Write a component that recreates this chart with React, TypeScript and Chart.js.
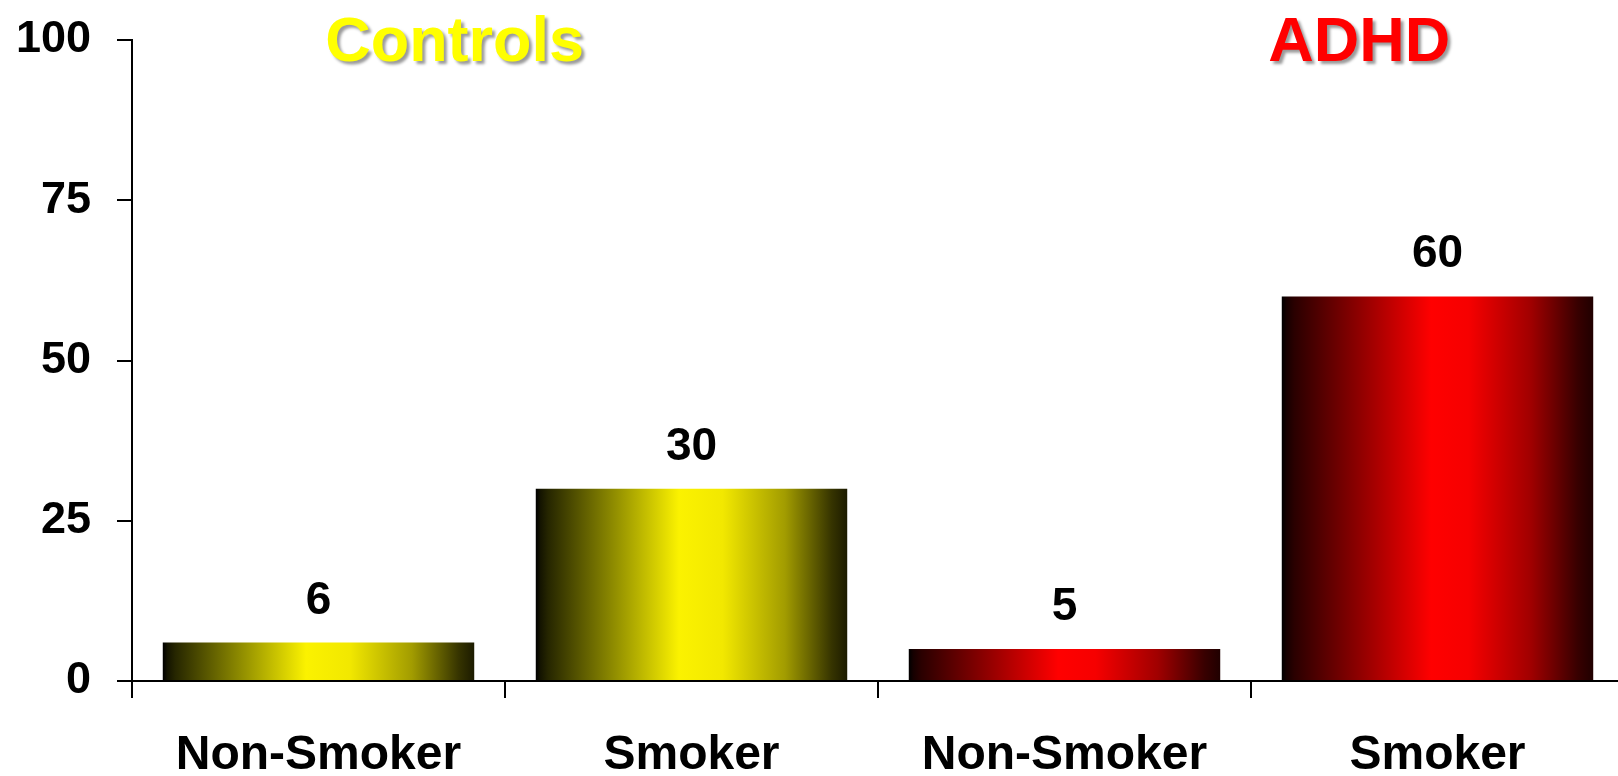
import React, { useEffect, useRef } from 'react';
import { Chart, registerables } from 'chart.js';

Chart.register(...registerables);

// ---- data ----
const categories = ['Non-Smoker', 'Smoker', 'Non-Smoker', 'Smoker'];
const values = [6, 30, 5, 60];
const barGroups = ['controls', 'controls', 'adhd', 'adhd'];
const groupTitles = ['Controls', 'ADHD'];
const groupTitleColors = ['#ffff00', '#ff0000'];
const yMin = 0;
const yMax = 100;
const yStep = 25;

const FONT = '"Liberation Sans", Arial, Helvetica, sans-serif';
const BAR_PCT = 0.835;

function gradientFor(group: string, ctx: CanvasRenderingContext2D, x0: number, x1: number) {
  const g = ctx.createLinearGradient(x0, 0, x1, 0);
  if (group === 'controls') {
    g.addColorStop(0, '#000000');
    g.addColorStop(0.015, '#141400');
    g.addColorStop(0.04, '#262600');
    g.addColorStop(0.25, '#8f8c00');
    g.addColorStop(0.46, '#fbf200');
    g.addColorStop(0.6, '#f2e800');
    g.addColorStop(0.8, '#a29c00');
    g.addColorStop(0.95, '#363400');
    g.addColorStop(1, '#1c1b00');
  } else {
    g.addColorStop(0, '#000000');
    g.addColorStop(0.015, '#160000');
    g.addColorStop(0.04, '#2a0000');
    g.addColorStop(0.25, '#8f0000');
    g.addColorStop(0.48, '#ff0000');
    g.addColorStop(0.6, '#f60000');
    g.addColorStop(0.8, '#a00000');
    g.addColorStop(0.95, '#380000');
    g.addColorStop(1, '#200000');
  }
  return g;
}

const valueLabelPlugin = {
  id: 'valueLabels',
  afterDatasetsDraw(chart: any) {
    const ctx = chart.ctx;
    const meta = chart.getDatasetMeta(0);
    ctx.save();
    ctx.fillStyle = '#000000';
    ctx.font = `bold 46px ${FONT}`;
    ctx.textAlign = 'center';
    ctx.textBaseline = 'alphabetic';
    meta.data.forEach((bar: any, i: number) => {
      ctx.fillText(String(values[i]), bar.x, bar.y - 29);
    });
    ctx.restore();
  },
};

const groupTitlePlugin = {
  id: 'groupTitles',
  afterDraw(chart: any) {
    const ctx = chart.ctx;
    const xs = chart.scales.x;
    const positions = [0.365, 2.79];
    ctx.save();
    ctx.font = `bold 63px ${FONT}`;
    ctx.textAlign = 'center';
    ctx.textBaseline = 'alphabetic';
    ctx.shadowColor = 'rgba(0,0,0,0.4)';
    ctx.shadowOffsetX = 3;
    ctx.shadowOffsetY = 3;
    ctx.shadowBlur = 3;
    groupTitles.forEach((t, i) => {
      ctx.fillStyle = groupTitleColors[i];
      ctx.fillText(t, xs.getPixelForValue(positions[i]), chart.chartArea.top + 21);
    });
    ctx.restore();
  },
};

export default function App() {
  const canvasRef = useRef<HTMLCanvasElement | null>(null);

  useEffect(() => {
    document.body.style.margin = '0';
    document.documentElement.style.overflow = 'hidden';
    const canvas = canvasRef.current;
    if (!canvas) return;
    const chart = new Chart(canvas, {
      type: 'bar',
      data: {
        labels: categories,
        datasets: [
          {
            data: values,
            borderWidth: 0,
            barPercentage: BAR_PCT,
            categoryPercentage: 1,
            backgroundColor: (c: any) => {
              const group = barGroups[c.dataIndex] ?? 'controls';
              const solid = group === 'controls' ? '#fbf200' : '#ff0000';
              const xs = c.chart.scales?.x;
              if (c.type !== 'data' || !xs) return solid;
              const cx = xs.getPixelForValue(c.dataIndex);
              const w = (xs.width / categories.length) * BAR_PCT;
              if (!isFinite(cx) || !isFinite(w) || w <= 0) return solid;
              return gradientFor(group, c.chart.ctx, cx - w / 2, cx + w / 2);
            },
          },
        ],
      },
      options: {
        animation: false,
        responsive: true,
        maintainAspectRatio: false,
        layout: { padding: { top: 40, left: 0, right: 0, bottom: 0 } },
        plugins: {
          legend: { display: false },
          tooltip: { enabled: false },
          title: { display: false },
        },
        scales: {
          x: {
            offset: true,
            grid: {
              offset: true,
              drawOnChartArea: false,
              drawTicks: true,
              tickLength: 17,
              color: '#000000',
              lineWidth: 2,
            },
            border: { display: true, color: '#000000', width: 2 },
            ticks: {
              color: '#000000',
              font: { family: FONT, size: 48, weight: 'bold' },
              padding: 29,
              maxRotation: 0,
              autoSkip: false,
            },
            afterFit: (s: any) => {
              s.height = 95;
              s.paddingLeft = 0;
              s.paddingRight = 0;
            },
          },
          y: {
            min: yMin,
            max: yMax,
            grid: {
              drawOnChartArea: false,
              drawTicks: true,
              tickLength: 15,
              color: '#000000',
              lineWidth: 2,
            },
            border: { display: true, color: '#000000', width: 2 },
            ticks: {
              stepSize: yStep,
              color: '#000000',
              font: { family: FONT, size: 45, weight: 'bold' },
              padding: 26,
            },
            afterFit: (s: any) => {
              s.width = 132;
              s.paddingTop = 0;
              s.paddingBottom = 0;
            },
          },
        },
      },
      plugins: [valueLabelPlugin, groupTitlePlugin],
    });
    chart.update();
    return () => chart.destroy();
  }, []);

  return (
    <div style={{ width: 1618, height: 776, overflow: 'hidden', background: '#ffffff' }}>
      <div style={{ width: 1624, height: 776, position: 'relative' }}>
        <canvas ref={canvasRef} />
      </div>
    </div>
  );
}
